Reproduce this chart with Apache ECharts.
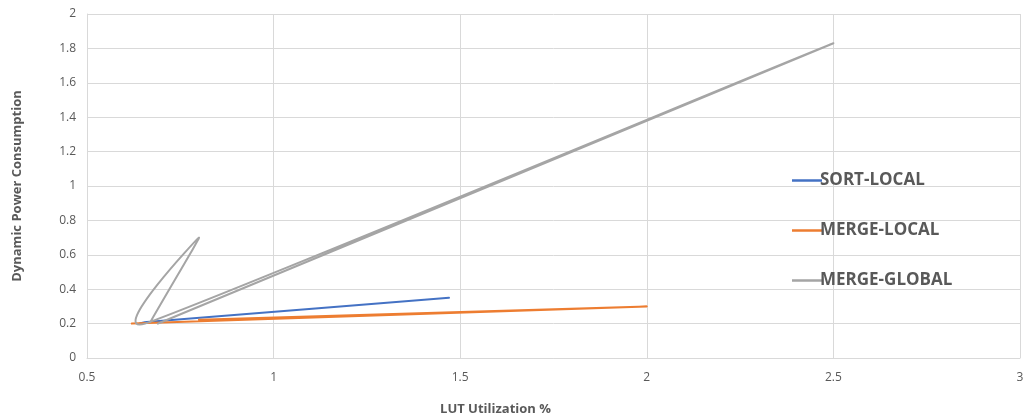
<!DOCTYPE html>
<html>
<head>
<meta charset="utf-8">
<script src="https://cdn.jsdelivr.net/npm/echarts@6/dist/echarts.min.js"></script>
<style>html,body{margin:0;padding:0;background:#fff}#c{width:1025px;height:418px}</style>
</head>
<body>
<div id="c"></div>
<script>
var seriesNames = ['SORT-LOCAL', 'MERGE-LOCAL', 'MERGE-GLOBAL'];
var sortLocal = [[0.64, 0.20], [0.66, 0.21], [1.47, 0.35]];
var mergeLocal = [[0.62, 0.20], [2.00, 0.30], [0.80, 0.222]];
var mergeGlobal = [[0.69, 0.20], [2.50, 1.83], [0.655, 0.20], [0.80, 0.70], [0.67, 0.21]];
var xTicks = { min: 0.5, max: 3, interval: 0.5 };
var yTicks = { min: 0, max: 2, interval: 0.2 };
var colors = ['#4472C4', '#ED7D31', '#A5A5A5'];
var smoothness = [0.3, 0, 0.5];

var font = 'Open Sans';
var chart = echarts.init(document.getElementById('c'), null, { renderer: 'canvas' });

// Smoothed path through the data points (pixel positions from the library's coord system)
function smoothPath(pts, s) {
  var n = pts.length, cpIn = [], cpOut = [];
  for (var i = 0; i < n; i++) {
    var p = pts[i], pr = pts[i - 1] || p, nx = pts[i + 1] || p;
    var vx = nx[0] - pr[0], vy = nx[1] - pr[1];
    var vl = Math.hypot(vx, vy) || 1;
    var d0 = Math.hypot(p[0] - pr[0], p[1] - pr[1]);
    var d1 = Math.hypot(nx[0] - p[0], nx[1] - p[1]);
    var sum = d0 + d1 || 1;
    var cap = s * Math.min(d0 || d1, d1 || d0);
    var lin = Math.min(s * vl * d0 / sum, cap);
    var lout = Math.min(s * vl * d1 / sum, cap);
    cpIn.push([p[0] - vx / vl * lin, p[1] - vy / vl * lin]);
    cpOut.push([p[0] + vx / vl * lout, p[1] + vy / vl * lout]);
  }
  var d = 'M' + pts[0][0] + ' ' + pts[0][1];
  for (var j = 1; j < n; j++) {
    d += ' C' + cpOut[j - 1][0] + ' ' + cpOut[j - 1][1] + ' ' + cpIn[j][0] + ' ' + cpIn[j][1] + ' ' + pts[j][0] + ' ' + pts[j][1];
  }
  return d;
}

function mk(idx, data) {
  return {
    name: seriesNames[idx], type: 'custom', data: data,
    encode: { x: 0, y: 1 },
    itemStyle: { color: colors[idx] },
    clip: true,
    renderItem: function (params, api) {
      if (params.dataIndex !== 0) return { type: 'group', children: [] };
      var pts = data.map(function (d) { return api.coord(d); });
      return {
        type: 'path',
        shape: { pathData: smoothPath(pts, smoothness[idx]) },
        style: { fill: 'none', stroke: colors[idx], lineWidth: 2, lineJoin: 'round', lineCap: 'round' }
      };
    }
  };
}

chart.setOption({
  animation: false,
  color: colors,
  grid: { left: 87, right: 5, top: 14, bottom: 60, containLabel: false, outerBoundsMode: 'none' },
  legend: {
    orient: 'vertical', left: 787, top: 167, itemGap: 33,
    icon: 'rect', itemWidth: 30, itemHeight: 2.5,
    textStyle: { fontFamily: font, fontSize: 17, fontWeight: 'bold', color: '#595959', padding: [0, 0, 0, -7] },
    data: seriesNames
  },
  xAxis: {
    type: 'value', min: xTicks.min, max: xTicks.max, interval: xTicks.interval,
    name: 'LUT Utilization %', nameLocation: 'middle', nameGap: 45,
    nameTextStyle: { fontFamily: font, fontSize: 13, fontWeight: 'bold', color: '#595959', padding: [0, 116, 0, 0] },
    axisLine: { show: true, lineStyle: { color: '#d9d9d9', width: 1 } },
    axisTick: { show: false },
    axisLabel: { fontFamily: font, fontSize: 12, color: '#595959', margin: 14 },
    splitLine: { show: true, lineStyle: { color: '#d9d9d9', width: 1 } }
  },
  yAxis: {
    type: 'value', min: yTicks.min, max: yTicks.max, interval: yTicks.interval,
    name: 'Dynamic Power Consumption', nameLocation: 'middle', nameGap: 63,
    nameTextStyle: { fontFamily: font, fontSize: 13, fontWeight: 'bold', color: '#595959' },
    axisLine: { show: true, lineStyle: { color: '#d9d9d9', width: 1 } },
    axisTick: { show: false },
    axisLabel: { fontFamily: font, fontSize: 12, color: '#595959', margin: 11 },
    splitLine: { show: true, lineStyle: { color: '#d9d9d9', width: 1 } }
  },
  series: [mk(0, sortLocal), mk(1, mergeLocal), mk(2, mergeGlobal)]
});
</script>
</body>
</html>
